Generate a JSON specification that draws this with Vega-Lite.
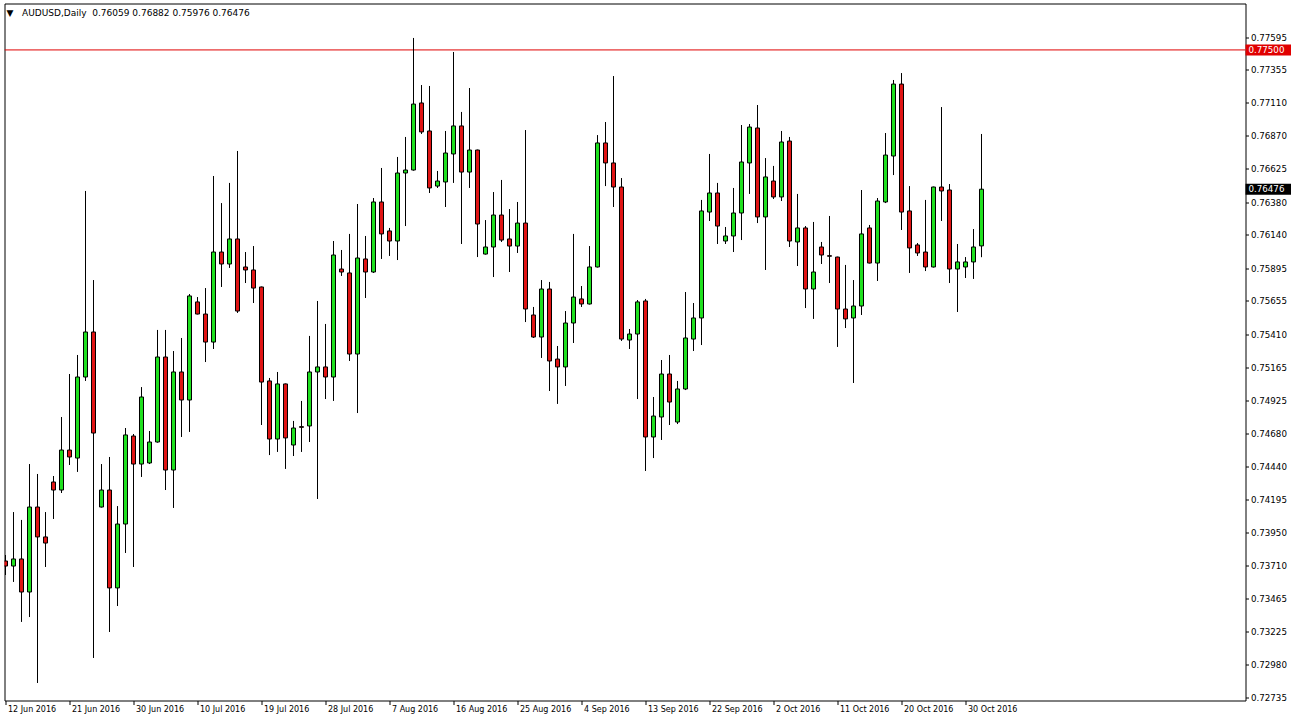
{
  "$schema": "https://vega.github.io/schema/vega-lite/v6.json",
  "width": 1241,
  "height": 697,
  "autosize": {"type": "none"},
  "padding": {"left": 4.5, "top": 3.5, "right": 45.5, "bottom": 22.5},
  "background": "white",
  "config": {
    "view": {"stroke": "black", "strokeWidth": 1},
    "font": "DejaVu Sans",
    "scale": {"continuousPadding": 0},
    "axis": {"labelOverlap": false, "labelFlush": false},
    "axisY": {"labelOverlap": false},
    "axisRight": {"labelOverlap": false}
  },
  "resolve": {"axis": {"x": "independent", "y": "independent"}},
  "title": {
    "text": "▼\u00a0\u00a0\u00a0AUDUSD,Daily\u00a0\u00a00.76059 0.76882 0.75976 0.76476",
    "orient": "top",
    "anchor": "start",
    "frame": "group",
    "offset": -18,
    "baseline": "middle",
    "dx": 2,
    "font": "DejaVu Sans",
    "fontSize": 9,
    "fontWeight": "normal",
    "color": "black"
  },
  "datasets": {
    "ohlc": [
      {"i":0,"d":"2016-06-12","o":0.73742,"h":0.73786,"l":0.73639,"c":0.73705},
      {"i":1,"d":"2016-06-13","o":0.73705,"h":0.74102,"l":0.73588,"c":0.73757},
      {"i":2,"d":"2016-06-14","o":0.73757,"h":0.74044,"l":0.73294,"c":0.73514},
      {"i":3,"d":"2016-06-15","o":0.73514,"h":0.74455,"l":0.73330,"c":0.74139},
      {"i":4,"d":"2016-06-16","o":0.74139,"h":0.74382,"l":0.72845,"c":0.73919},
      {"i":5,"d":"2016-06-17","o":0.73919,"h":0.74102,"l":0.73698,"c":0.73874},
      {"i":6,"d":"2016-06-19","o":0.74323,"h":0.74367,"l":0.74051,"c":0.74264},
      {"i":7,"d":"2016-06-20","o":0.74264,"h":0.74801,"l":0.74242,"c":0.74558},
      {"i":8,"d":"2016-06-21","o":0.74558,"h":0.75117,"l":0.74448,"c":0.74507},
      {"i":9,"d":"2016-06-22","o":0.74499,"h":0.75257,"l":0.74397,"c":0.75095},
      {"i":10,"d":"2016-06-23","o":0.75095,"h":0.76463,"l":0.75066,"c":0.75426},
      {"i":11,"d":"2016-06-24","o":0.75426,"h":0.75808,"l":0.73029,"c":0.74683},
      {"i":12,"d":"2016-06-26","o":0.74139,"h":0.74455,"l":0.74135,"c":0.74264},
      {"i":13,"d":"2016-06-27","o":0.74264,"h":0.74507,"l":0.73220,"c":0.73544},
      {"i":14,"d":"2016-06-28","o":0.73544,"h":0.74146,"l":0.73411,"c":0.74014},
      {"i":15,"d":"2016-06-29","o":0.74014,"h":0.74720,"l":0.73801,"c":0.74669},
      {"i":16,"d":"2016-06-30","o":0.74661,"h":0.74676,"l":0.73698,"c":0.74455},
      {"i":17,"d":"2016-07-01","o":0.74455,"h":0.75021,"l":0.74360,"c":0.74948},
      {"i":18,"d":"2016-07-03","o":0.74463,"h":0.74698,"l":0.74455,"c":0.74617},
      {"i":19,"d":"2016-07-04","o":0.74617,"h":0.75441,"l":0.74612,"c":0.75242},
      {"i":20,"d":"2016-07-05","o":0.75242,"h":0.75441,"l":0.74264,"c":0.74411},
      {"i":21,"d":"2016-07-06","o":0.74411,"h":0.75286,"l":0.74132,"c":0.75132},
      {"i":22,"d":"2016-07-07","o":0.75132,"h":0.75382,"l":0.74654,"c":0.74926},
      {"i":23,"d":"2016-07-08","o":0.74926,"h":0.75705,"l":0.74691,"c":0.75691},
      {"i":24,"d":"2016-07-10","o":0.75647,"h":0.75683,"l":0.75555,"c":0.75558},
      {"i":25,"d":"2016-07-11","o":0.75558,"h":0.75749,"l":0.75205,"c":0.75352},
      {"i":26,"d":"2016-07-12","o":0.75352,"h":0.76573,"l":0.75301,"c":0.76014},
      {"i":27,"d":"2016-07-13","o":0.76014,"h":0.76374,"l":0.75757,"c":0.75926},
      {"i":28,"d":"2016-07-14","o":0.75926,"h":0.76522,"l":0.75897,"c":0.76110},
      {"i":29,"d":"2016-07-15","o":0.76110,"h":0.76757,"l":0.75566,"c":0.75580},
      {"i":30,"d":"2016-07-17","o":0.75904,"h":0.76014,"l":0.75786,"c":0.75882},
      {"i":31,"d":"2016-07-18","o":0.75882,"h":0.76058,"l":0.75639,"c":0.75749},
      {"i":32,"d":"2016-07-19","o":0.75757,"h":0.75760,"l":0.74742,"c":0.75058},
      {"i":33,"d":"2016-07-20","o":0.75066,"h":0.75088,"l":0.74521,"c":0.74639},
      {"i":34,"d":"2016-07-21","o":0.74639,"h":0.75132,"l":0.74544,"c":0.75044},
      {"i":35,"d":"2016-07-22","o":0.75044,"h":0.75047,"l":0.74419,"c":0.74647},
      {"i":36,"d":"2016-07-24","o":0.74595,"h":0.74772,"l":0.74514,"c":0.74720},
      {"i":37,"d":"2016-07-25","o":0.74730,"h":0.74919,"l":0.74544,"c":0.74725},
      {"i":38,"d":"2016-07-26","o":0.74735,"h":0.75397,"l":0.74617,"c":0.75132},
      {"i":39,"d":"2016-07-27","o":0.75132,"h":0.75654,"l":0.74198,"c":0.75169},
      {"i":40,"d":"2016-07-28","o":0.75169,"h":0.75485,"l":0.74933,"c":0.75095},
      {"i":41,"d":"2016-07-29","o":0.75095,"h":0.76095,"l":0.74919,"c":0.75992},
      {"i":42,"d":"2016-07-31","o":0.75889,"h":0.76029,"l":0.75838,"c":0.75867},
      {"i":43,"d":"2016-08-01","o":0.75860,"h":0.76147,"l":0.75213,"c":0.75264},
      {"i":44,"d":"2016-08-02","o":0.75264,"h":0.76367,"l":0.74830,"c":0.75970},
      {"i":45,"d":"2016-08-03","o":0.75963,"h":0.76132,"l":0.75676,"c":0.75867},
      {"i":46,"d":"2016-08-04","o":0.75867,"h":0.76411,"l":0.75860,"c":0.76382},
      {"i":47,"d":"2016-08-05","o":0.76382,"h":0.76632,"l":0.75963,"c":0.76147},
      {"i":48,"d":"2016-08-07","o":0.76169,"h":0.76191,"l":0.75985,"c":0.76095},
      {"i":49,"d":"2016-08-08","o":0.76095,"h":0.76713,"l":0.75955,"c":0.76595},
      {"i":50,"d":"2016-08-09","o":0.76595,"h":0.76860,"l":0.76205,"c":0.76617},
      {"i":51,"d":"2016-08-10","o":0.76617,"h":0.77588,"l":0.76612,"c":0.77102},
      {"i":52,"d":"2016-08-11","o":0.77110,"h":0.77242,"l":0.76882,"c":0.76897},
      {"i":53,"d":"2016-08-12","o":0.76904,"h":0.77235,"l":0.76448,"c":0.76485},
      {"i":54,"d":"2016-08-14","o":0.76499,"h":0.76610,"l":0.76485,"c":0.76536},
      {"i":55,"d":"2016-08-15","o":0.76529,"h":0.76904,"l":0.76345,"c":0.76742},
      {"i":56,"d":"2016-08-16","o":0.76735,"h":0.77485,"l":0.76522,"c":0.76941},
      {"i":57,"d":"2016-08-17","o":0.76941,"h":0.77044,"l":0.76073,"c":0.76602},
      {"i":58,"d":"2016-08-18","o":0.76602,"h":0.77220,"l":0.76485,"c":0.76764},
      {"i":59,"d":"2016-08-19","o":0.76764,"h":0.76767,"l":0.75977,"c":0.76220},
      {"i":60,"d":"2016-08-21","o":0.75999,"h":0.76249,"l":0.75995,"c":0.76051},
      {"i":61,"d":"2016-08-22","o":0.76051,"h":0.76455,"l":0.75830,"c":0.76286},
      {"i":62,"d":"2016-08-23","o":0.76286,"h":0.76544,"l":0.76088,"c":0.76102},
      {"i":63,"d":"2016-08-24","o":0.76110,"h":0.76330,"l":0.75867,"c":0.76058},
      {"i":64,"d":"2016-08-25","o":0.76058,"h":0.76382,"l":0.76007,"c":0.76227},
      {"i":65,"d":"2016-08-26","o":0.76227,"h":0.76911,"l":0.75499,"c":0.75595},
      {"i":66,"d":"2016-08-28","o":0.75551,"h":0.75610,"l":0.75382,"c":0.75389},
      {"i":67,"d":"2016-08-29","o":0.75389,"h":0.75808,"l":0.75235,"c":0.75742},
      {"i":68,"d":"2016-08-30","o":0.75742,"h":0.75794,"l":0.74992,"c":0.75213},
      {"i":69,"d":"2016-08-31","o":0.75227,"h":0.75323,"l":0.74897,"c":0.75169},
      {"i":70,"d":"2016-09-01","o":0.75169,"h":0.75580,"l":0.75029,"c":0.75492},
      {"i":71,"d":"2016-09-02","o":0.75492,"h":0.76147,"l":0.75345,"c":0.75683},
      {"i":72,"d":"2016-09-04","o":0.75669,"h":0.75764,"l":0.75610,"c":0.75632},
      {"i":73,"d":"2016-09-05","o":0.75632,"h":0.76058,"l":0.75628,"c":0.75904},
      {"i":74,"d":"2016-09-06","o":0.75904,"h":0.76874,"l":0.75900,"c":0.76816},
      {"i":75,"d":"2016-09-07","o":0.76816,"h":0.76970,"l":0.76499,"c":0.76669},
      {"i":76,"d":"2016-09-08","o":0.76669,"h":0.77308,"l":0.76345,"c":0.76492},
      {"i":77,"d":"2016-09-09","o":0.76492,"h":0.76558,"l":0.75360,"c":0.75374},
      {"i":78,"d":"2016-09-11","o":0.75367,"h":0.75448,"l":0.75301,"c":0.75411},
      {"i":79,"d":"2016-09-12","o":0.75411,"h":0.75661,"l":0.74933,"c":0.75647},
      {"i":80,"d":"2016-09-13","o":0.75654,"h":0.75669,"l":0.74404,"c":0.74654},
      {"i":81,"d":"2016-09-14","o":0.74654,"h":0.74948,"l":0.74499,"c":0.74808},
      {"i":82,"d":"2016-09-15","o":0.74801,"h":0.75220,"l":0.74632,"c":0.75117},
      {"i":83,"d":"2016-09-16","o":0.75117,"h":0.75257,"l":0.74742,"c":0.74911},
      {"i":84,"d":"2016-09-18","o":0.74764,"h":0.75066,"l":0.74749,"c":0.75007},
      {"i":85,"d":"2016-09-19","o":0.75007,"h":0.75720,"l":0.74999,"c":0.75382},
      {"i":86,"d":"2016-09-20","o":0.75374,"h":0.75639,"l":0.75286,"c":0.75529},
      {"i":87,"d":"2016-09-21","o":0.75529,"h":0.76397,"l":0.75330,"c":0.76316},
      {"i":88,"d":"2016-09-22","o":0.76308,"h":0.76735,"l":0.76242,"c":0.76448},
      {"i":89,"d":"2016-09-23","o":0.76448,"h":0.76522,"l":0.76073,"c":0.76205},
      {"i":90,"d":"2016-09-25","o":0.76095,"h":0.76198,"l":0.76073,"c":0.76132},
      {"i":91,"d":"2016-09-26","o":0.76132,"h":0.76485,"l":0.76014,"c":0.76301},
      {"i":92,"d":"2016-09-27","o":0.76301,"h":0.76948,"l":0.76102,"c":0.76676},
      {"i":93,"d":"2016-09-28","o":0.76669,"h":0.76955,"l":0.76441,"c":0.76933},
      {"i":94,"d":"2016-09-29","o":0.76926,"h":0.77095,"l":0.76227,"c":0.76272},
      {"i":95,"d":"2016-09-30","o":0.76272,"h":0.76705,"l":0.75882,"c":0.76566},
      {"i":96,"d":"2016-10-02","o":0.76536,"h":0.76647,"l":0.76404,"c":0.76419},
      {"i":97,"d":"2016-10-03","o":0.76419,"h":0.76904,"l":0.76389,"c":0.76823},
      {"i":98,"d":"2016-10-04","o":0.76830,"h":0.76860,"l":0.76051,"c":0.76095},
      {"i":99,"d":"2016-10-05","o":0.76088,"h":0.76441,"l":0.75911,"c":0.76191},
      {"i":100,"d":"2016-10-06","o":0.76191,"h":0.76205,"l":0.75602,"c":0.75742},
      {"i":101,"d":"2016-10-07","o":0.75742,"h":0.76235,"l":0.75522,"c":0.75867},
      {"i":102,"d":"2016-10-09","o":0.76051,"h":0.76088,"l":0.75926,"c":0.75992},
      {"i":103,"d":"2016-10-10","o":0.75987,"h":0.76279,"l":0.75786,"c":0.75983},
      {"i":104,"d":"2016-10-11","o":0.75977,"h":0.75980,"l":0.75316,"c":0.75595},
      {"i":105,"d":"2016-10-12","o":0.75595,"h":0.75919,"l":0.75455,"c":0.75522},
      {"i":106,"d":"2016-10-13","o":0.75529,"h":0.75808,"l":0.75051,"c":0.75617},
      {"i":107,"d":"2016-10-14","o":0.75617,"h":0.76470,"l":0.75551,"c":0.76147},
      {"i":108,"d":"2016-10-16","o":0.76191,"h":0.76213,"l":0.75930,"c":0.75933},
      {"i":109,"d":"2016-10-17","o":0.75933,"h":0.76411,"l":0.75801,"c":0.76389},
      {"i":110,"d":"2016-10-18","o":0.76382,"h":0.76889,"l":0.76374,"c":0.76727},
      {"i":111,"d":"2016-10-19","o":0.76720,"h":0.77279,"l":0.76580,"c":0.77249},
      {"i":112,"d":"2016-10-20","o":0.77249,"h":0.77330,"l":0.76176,"c":0.76308},
      {"i":113,"d":"2016-10-21","o":0.76316,"h":0.76499,"l":0.75860,"c":0.76044},
      {"i":114,"d":"2016-10-23","o":0.76066,"h":0.76080,"l":0.75985,"c":0.76007},
      {"i":115,"d":"2016-10-24","o":0.76014,"h":0.76397,"l":0.75874,"c":0.75904},
      {"i":116,"d":"2016-10-25","o":0.75904,"h":0.76495,"l":0.75900,"c":0.76492},
      {"i":117,"d":"2016-10-26","o":0.76492,"h":0.77080,"l":0.76242,"c":0.76463},
      {"i":118,"d":"2016-10-27","o":0.76470,"h":0.76514,"l":0.75786,"c":0.75889},
      {"i":119,"d":"2016-10-28","o":0.75889,"h":0.76073,"l":0.75573,"c":0.75941},
      {"i":120,"d":"2016-10-30","o":0.75904,"h":0.75977,"l":0.75823,"c":0.75941},
      {"i":121,"d":"2016-10-31","o":0.75941,"h":0.76183,"l":0.75816,"c":0.76051},
      {"i":122,"d":"2016-11-01","o":0.76059,"h":0.76882,"l":0.75976,"c":0.76476}
    ],
    "marks": [
      {"name": "level", "v": 0.775},
      {"name": "last", "v": 0.76476}
    ]
  },
  "layer": [
    {
      "data": {"name": "marks"},
      "transform": [{"filter": "datum.name == 'level'"}],
      "mark": {"type": "rule", "color": "#e00000", "strokeWidth": 1, "clip": true},
      "encoding": {
        "y": {"field": "v", "type": "quantitative", "scale": {"domain": [0.727163, 0.778414], "nice": false, "zero": false, "padding": 0},
          "axis": {
            "orient": "right",
            "values": [0.72735, 0.72980, 0.73225, 0.73465, 0.73710, 0.73950, 0.74195, 0.74440, 0.74680, 0.74925, 0.75165, 0.75410, 0.75655, 0.75895, 0.76140, 0.76380, 0.76625, 0.76870, 0.77110, 0.77355, 0.77595],
            "format": ".5f",
            "title": null,
            "domain": false,
            "grid": false,
            "tickColor": "black",
            "tickSize": 3,
            "labelPadding": 2,
            "labelFont": "DejaVu Sans",
            "labelFontSize": 8.7,
            "labelColor": "black",
            "labelOverlap": false,
            "labelBound": false
          }
        }
      }
    },
    {
      "data": {"name": "ohlc"},
      "mark": {"type": "rule", "color": "black", "strokeWidth": 1, "clip": true},
      "encoding": {
        "x": {"field": "i", "type": "quantitative", "scale": {"domain": [-0.125, 155.0], "nice": false, "zero": false, "padding": 0},
          "axis": {
            "orient": "bottom",
            "values": [0, 8, 16, 24, 32, 40, 48, 56, 64, 72, 80, 88, 96, 104, 112, 120],
            "labelExpr": "['12 Jun 2016','21 Jun 2016','30 Jun 2016','10 Jul 2016','19 Jul 2016','28 Jul 2016','7 Aug 2016','16 Aug 2016','25 Aug 2016','4 Sep 2016','13 Sep 2016','22 Sep 2016','2 Oct 2016','11 Oct 2016','20 Oct 2016','30 Oct 2016'][round(datum.value / 8)]",
            "title": null,
            "domain": false,
            "grid": false,
            "tickColor": "black",
            "tickSize": 4,
            "labelAlign": "left",
            "labelBaseline": "top",
            "labelPadding": 1,
            "labelOffset": 2,
            "labelFont": "DejaVu Sans",
            "labelFontSize": 8,
            "labelColor": "black",
            "labelOverlap": false,
            "labelFlush": false
          }
        },
        "y": {"field": "l", "type": "quantitative", "axis": null},
        "y2": {"field": "h"}
      }
    },
    {
      "data": {"name": "ohlc"},
      "mark": {"type": "bar", "orient": "vertical", "size": 4, "stroke": "black", "strokeWidth": 1, "clip": true},
      "encoding": {
        "x": {"field": "i", "type": "quantitative", "axis": null},
        "y": {"field": "o", "type": "quantitative", "axis": null},
        "y2": {"field": "c"},
        "fill": {
          "condition": {"test": "datum.c >= datum.o", "value": "#1fe01f"},
          "value": "#e01414"
        }
      }
    },
    {
      "data": {"name": "marks"},
      "mark": {"type": "bar", "orient": "horizontal", "size": 11, "clip": false},
      "encoding": {
        "x": {"datum": 155.0, "type": "quantitative", "axis": null},
        "x2": {"datum": 160.7},
        "y": {"field": "v", "type": "quantitative", "axis": null},
        "fill": {
          "condition": {"test": "datum.name == 'level'", "value": "#e00000"},
          "value": "black"
        }
      }
    },
    {
      "data": {"name": "marks"},
      "mark": {"type": "text", "align": "left", "baseline": "middle", "dx": 3, "font": "DejaVu Sans", "fontSize": 8.7, "fill": "white", "clip": false},
      "encoding": {
        "x": {"datum": 155.0, "type": "quantitative", "axis": null},
        "y": {"field": "v", "type": "quantitative", "axis": null},
        "text": {"field": "v", "type": "quantitative", "format": ".5f"}
      }
    }
  ]
}
